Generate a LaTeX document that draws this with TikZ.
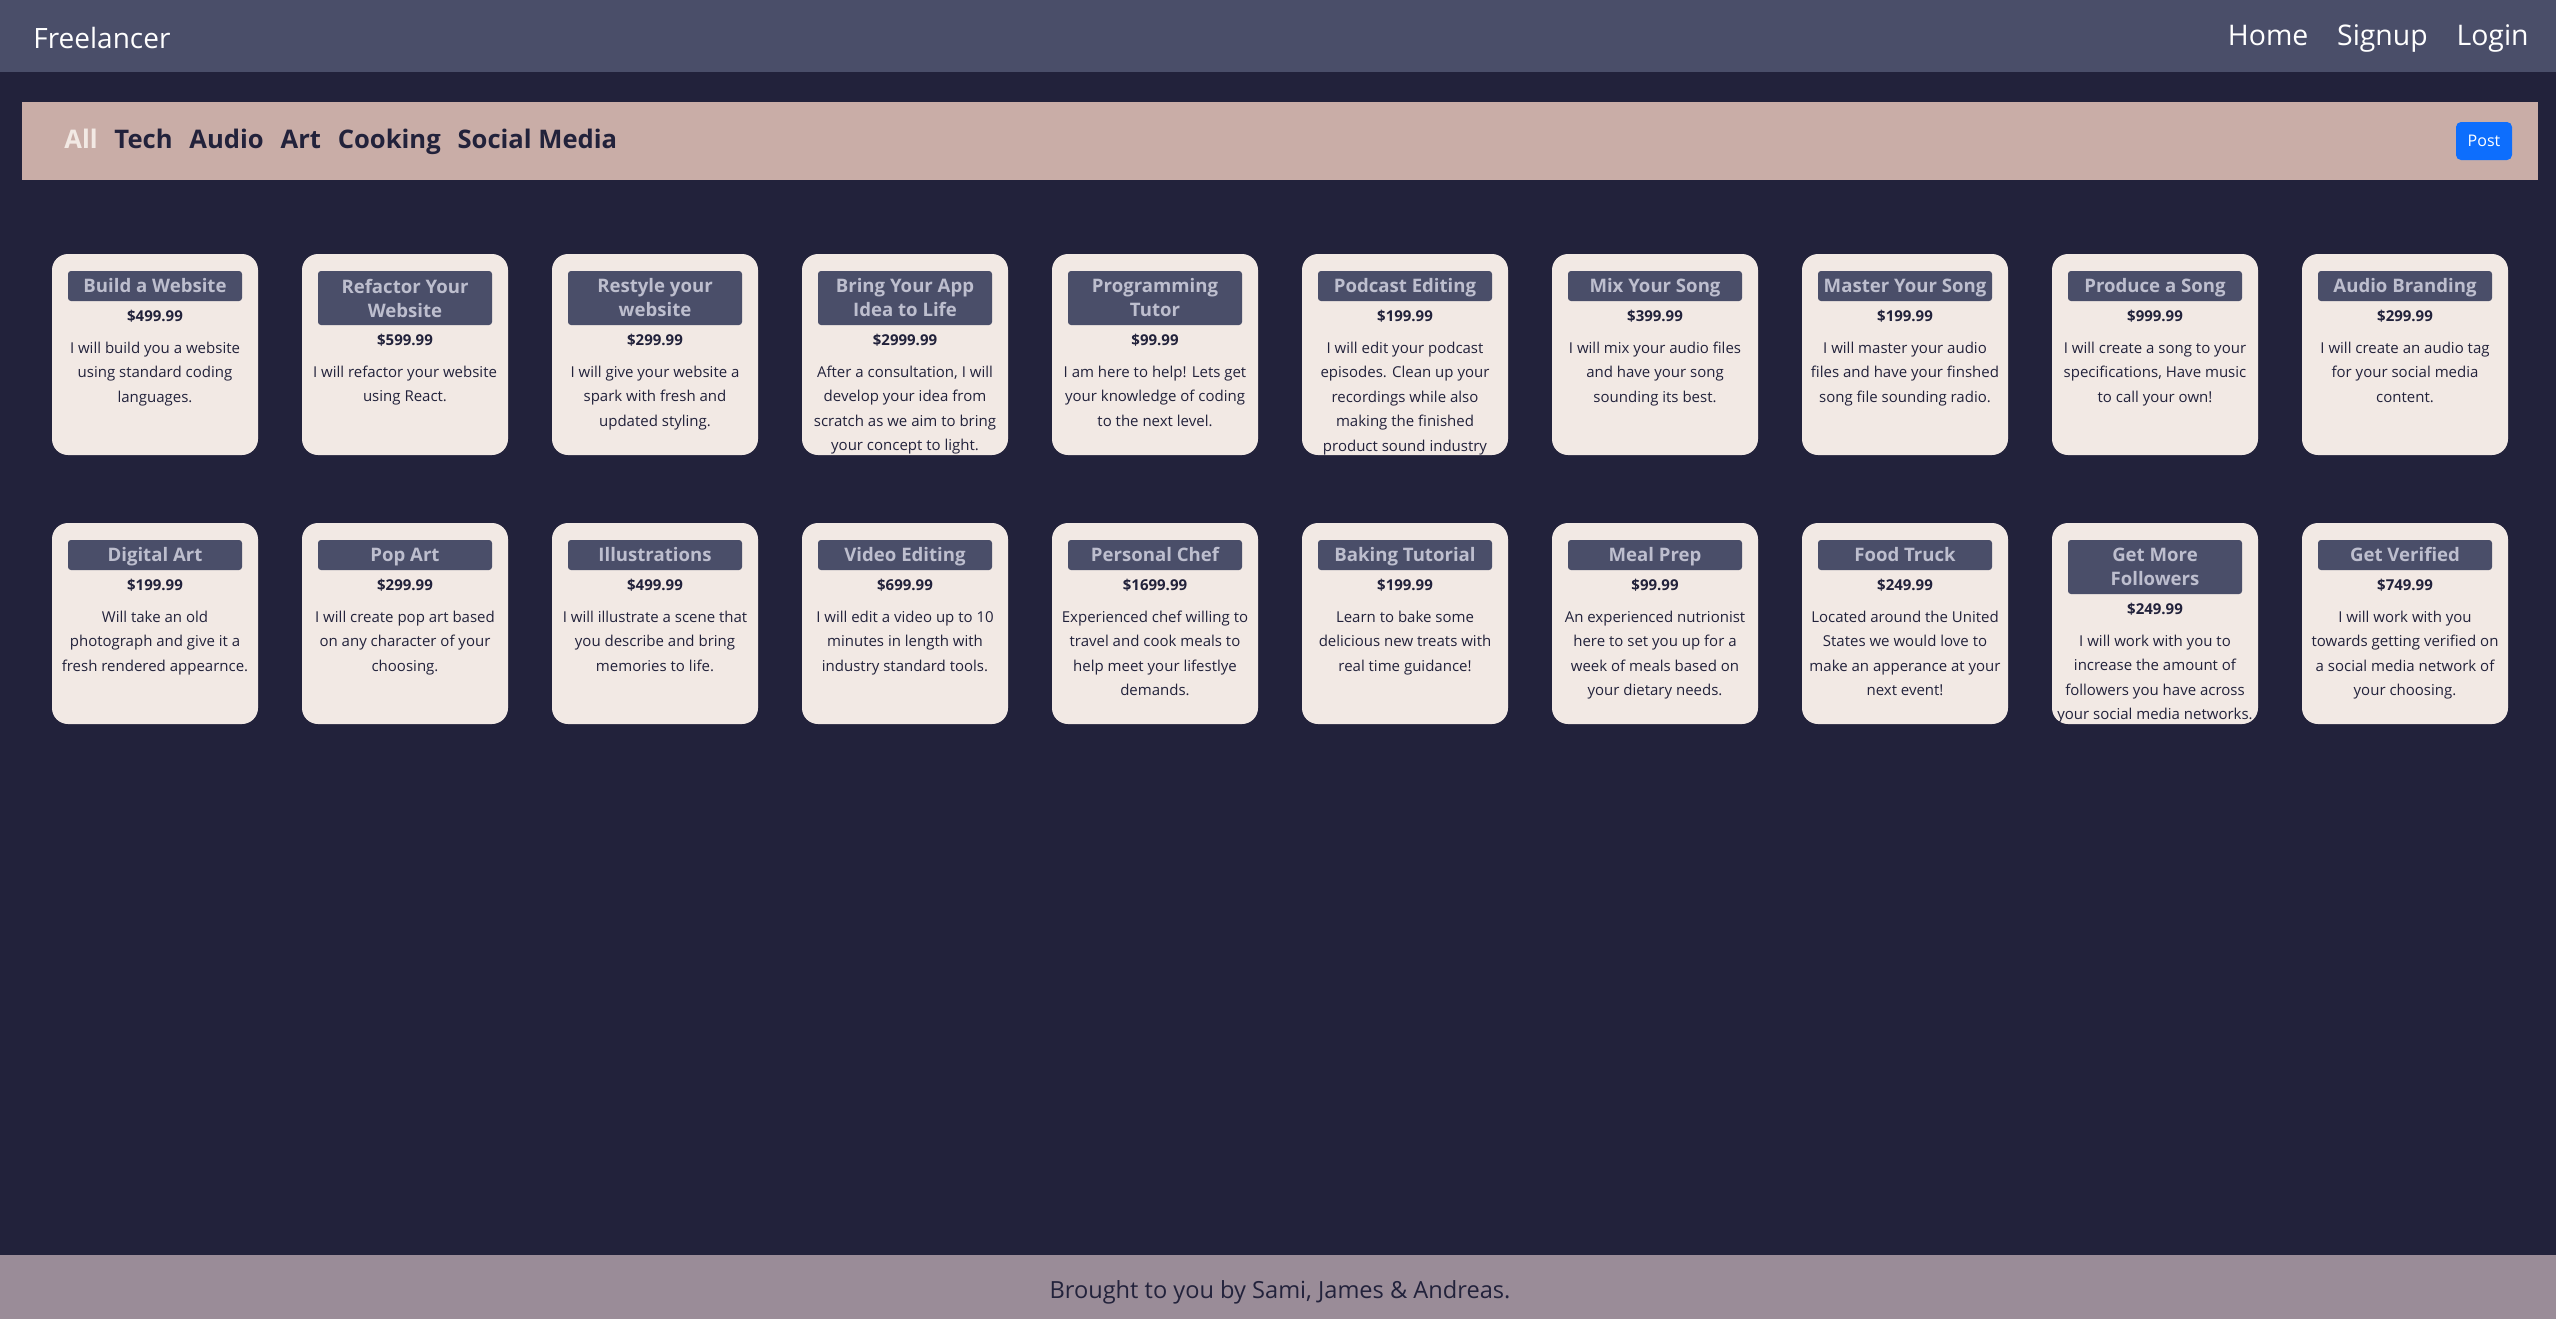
\documentclass[tikz,border=0pt]{standalone}
\usepackage{fontspec}
\setmainfont{Open Sans}
\usetikzlibrary{positioning}
\definecolor{bgdark}{HTML}{22223B}
\definecolor{navbg}{HTML}{4A4E69}
\definecolor{footbg}{HTML}{9A8C98}
\definecolor{barbg}{HTML}{C9ADA7}
\definecolor{cardbg}{HTML}{F2E9E4}
\definecolor{ttltext}{HTML}{BDBECE}
\definecolor{postblue}{HTML}{0D6EFD}
\tikzset{card/.style={fill=cardbg, rounded corners=8pt, minimum width=103pt, minimum height=100.5pt, inner sep=0pt},
  ttlbox/.style={fill=navbg, rounded corners=1.5pt, minimum width=87pt, inner sep=0pt, align=center, text=ttltext, font=\fontsize{9.3}{12}\selectfont\bfseries},
  ttl/.style={ttlbox, minimum height=15pt, text height=7.6pt, text depth=1.6pt},
  ttltwo/.style={ttlbox, minimum height=27pt},
  price/.style={inner sep=0pt, text height=5.5pt, text depth=1.5pt, text=bgdark, font=\fontsize{7.5}{9}\selectfont\bfseries},
  desc/.style={inner sep=0pt, align=center, text=bgdark, font=\fontsize{7.5}{12.25}\selectfont},
  filt/.style={inner sep=0pt, text height=9.5pt, text depth=3pt, text=bgdark, font=\fontsize{12.8}{15}\selectfont\bfseries},
  navlink/.style={inner sep=0pt, text height=11pt, text depth=3.5pt, text=white, font=\fontsize{14.2}{17}\selectfont}}
\begin{document}
\begin{tikzpicture}[x=0.5pt,y=-0.5pt]
\useasboundingbox (0,0) rectangle (2556,1319);
\fill[bgdark] (0,0) rectangle (2556,1319);
\fill[navbg] (0,0) rectangle (2556,72);
\fill[barbg] (22,102) rectangle (2538,180);
\fill[footbg] (0,1255) rectangle (2556,1319);
\node[navlink, anchor=base west, font=\fontsize{14}{17}\selectfont] (brand) at (33,48) {Freelancer};
\node[navlink, anchor=base east] (login) at (2529,45) {Login};
\node[navlink, left=14pt of login] (signup) {Signup};
\node[navlink, left=14pt of signup] (home) {Home};
\node[filt, text=cardbg, anchor=base west] (fall) at (64,148) {All};
\node[filt, right=8pt of fall] (ftech) {Tech};
\node[filt, right=8pt of ftech] (faudio) {Audio};
\node[filt, right=8pt of faudio] (fart) {Art};
\node[filt, right=8pt of fart] (fcook) {Cooking};
\node[filt, right=8pt of fcook] (fsocial) {Social Media};
\node[fill=postblue, rounded corners=2.5pt, minimum width=28pt, minimum height=19pt, inner sep=0pt, text=white, font=\fontsize{8}{10}\selectfont] (post) at (2484,141) {Post};
\node[card] (c1) at (155,354.5) {}; \node[ttl, below=8.5pt of c1.north] (t1) {Build a Website}; \node[price, below=4.5pt of t1] (p1) {\$499.99}; \node[desc, below=8pt of p1] (d1) {I will build you a website\\using standard coding\\languages.};
\node[card] (c2) at (405,354.5) {}; \node[ttltwo, below=8.5pt of c2.north] (t2) {Refactor Your\\Website}; \node[price, below=4.5pt of t2] (p2) {\$599.99}; \node[desc, below=8pt of p2] (d2) {I will refactor your website\\using React.};
\node[card] (c3) at (655,354.5) {}; \node[ttltwo, below=8.5pt of c3.north] (t3) {Restyle your\\website}; \node[price, below=4.5pt of t3] (p3) {\$299.99}; \node[desc, below=8pt of p3] (d3) {I will give your website a\\spark with fresh and\\updated styling.};
\node[card] (c4) at (905,354.5) {}; \node[ttltwo, below=8.5pt of c4.north] (t4) {Bring Your App\\Idea to Life}; \node[price, below=4.5pt of t4] (p4) {\$2999.99}; \node[desc, below=8pt of p4] (d4) {After a consultation, I will\\develop your idea from\\scratch as we aim to bring\\your concept to light.};
\node[card] (c5) at (1155,354.5) {}; \node[ttltwo, below=8.5pt of c5.north] (t5) {Programming\\Tutor}; \node[price, below=4.5pt of t5] (p5) {\$99.99}; \node[desc, below=8pt of p5] (d5) {I am here to help! Lets get\\your knowledge of coding\\to the next level.};
\node[card] (c6) at (1405,354.5) {}; \node[ttl, below=8.5pt of c6.north] (t6) {Podcast Editing}; \node[price, below=4.5pt of t6] (p6) {\$199.99}; \node[desc, below=8pt of p6] (d6) {I will edit your podcast\\episodes. Clean up your\\recordings while also\\making the finished\\product sound industry};
\node[card] (c7) at (1655,354.5) {}; \node[ttl, below=8.5pt of c7.north] (t7) {Mix Your Song}; \node[price, below=4.5pt of t7] (p7) {\$399.99}; \node[desc, below=8pt of p7] (d7) {I will mix your audio files\\and have your song\\sounding its best.};
\node[card] (c8) at (1905,354.5) {}; \node[ttl, below=8.5pt of c8.north] (t8) {Master Your Song}; \node[price, below=4.5pt of t8] (p8) {\$199.99}; \node[desc, below=8pt of p8] (d8) {I will master your audio\\files and have your finshed\\song file sounding radio.};
\node[card] (c9) at (2155,354.5) {}; \node[ttl, below=8.5pt of c9.north] (t9) {Produce a Song}; \node[price, below=4.5pt of t9] (p9) {\$999.99}; \node[desc, below=8pt of p9] (d9) {I will create a song to your\\specifications, Have music\\to call your own!};
\node[card] (c10) at (2405,354.5) {}; \node[ttl, below=8.5pt of c10.north] (t10) {Audio Branding}; \node[price, below=4.5pt of t10] (p10) {\$299.99}; \node[desc, below=8pt of p10] (d10) {I will create an audio tag\\for your social media\\content.};
\node[card] (c11) at (155,623.5) {}; \node[ttl, below=8.5pt of c11.north] (t11) {Digital Art}; \node[price, below=4.5pt of t11] (p11) {\$199.99}; \node[desc, below=8pt of p11] (d11) {Will take an old\\photograph and give it a\\fresh rendered appearnce.};
\node[card] (c12) at (405,623.5) {}; \node[ttl, below=8.5pt of c12.north] (t12) {Pop Art}; \node[price, below=4.5pt of t12] (p12) {\$299.99}; \node[desc, below=8pt of p12] (d12) {I will create pop art based\\on any character of your\\choosing.};
\node[card] (c13) at (655,623.5) {}; \node[ttl, below=8.5pt of c13.north] (t13) {Illustrations}; \node[price, below=4.5pt of t13] (p13) {\$499.99}; \node[desc, below=8pt of p13] (d13) {I will illustrate a scene that\\you describe and bring\\memories to life.};
\node[card] (c14) at (905,623.5) {}; \node[ttl, below=8.5pt of c14.north] (t14) {Video Editing}; \node[price, below=4.5pt of t14] (p14) {\$699.99}; \node[desc, below=8pt of p14] (d14) {I will edit a video up to 10\\minutes in length with\\industry standard tools.};
\node[card] (c15) at (1155,623.5) {}; \node[ttl, below=8.5pt of c15.north] (t15) {Personal Chef}; \node[price, below=4.5pt of t15] (p15) {\$1699.99}; \node[desc, below=8pt of p15] (d15) {Experienced chef willing to\\travel and cook meals to\\help meet your lifestlye\\demands.};
\node[card] (c16) at (1405,623.5) {}; \node[ttl, below=8.5pt of c16.north] (t16) {Baking Tutorial}; \node[price, below=4.5pt of t16] (p16) {\$199.99}; \node[desc, below=8pt of p16] (d16) {Learn to bake some\\delicious new treats with\\real time guidance!};
\node[card] (c17) at (1655,623.5) {}; \node[ttl, below=8.5pt of c17.north] (t17) {Meal Prep}; \node[price, below=4.5pt of t17] (p17) {\$99.99}; \node[desc, below=8pt of p17] (d17) {An experienced nutrionist\\here to set you up for a\\week of meals based on\\your dietary needs.};
\node[card] (c18) at (1905,623.5) {}; \node[ttl, below=8.5pt of c18.north] (t18) {Food Truck}; \node[price, below=4.5pt of t18] (p18) {\$249.99}; \node[desc, below=8pt of p18] (d18) {Located around the United\\States we would love to\\make an apperance at your\\next event!};
\node[card] (c19) at (2155,623.5) {}; \node[ttltwo, below=8.5pt of c19.north] (t19) {Get More\\Followers}; \node[price, below=4.5pt of t19] (p19) {\$249.99}; \node[desc, below=8pt of p19] (d19) {I will work with you to\\increase the amount of\\followers you have across\\your social media networks.};
\node[card] (c20) at (2405,623.5) {}; \node[ttl, below=8.5pt of c20.north] (t20) {Get Verified}; \node[price, below=4.5pt of t20] (p20) {\$749.99}; \node[desc, below=8pt of p20] (d20) {I will work with you\\towards getting verified on\\a social media network of\\your choosing.};
\node[text=bgdark, font=\fontsize{11.8}{14}\selectfont] (foot) at (1280,1292) {Brought to you by Sami, James \& Andreas.};
\end{tikzpicture}
\end{document}
